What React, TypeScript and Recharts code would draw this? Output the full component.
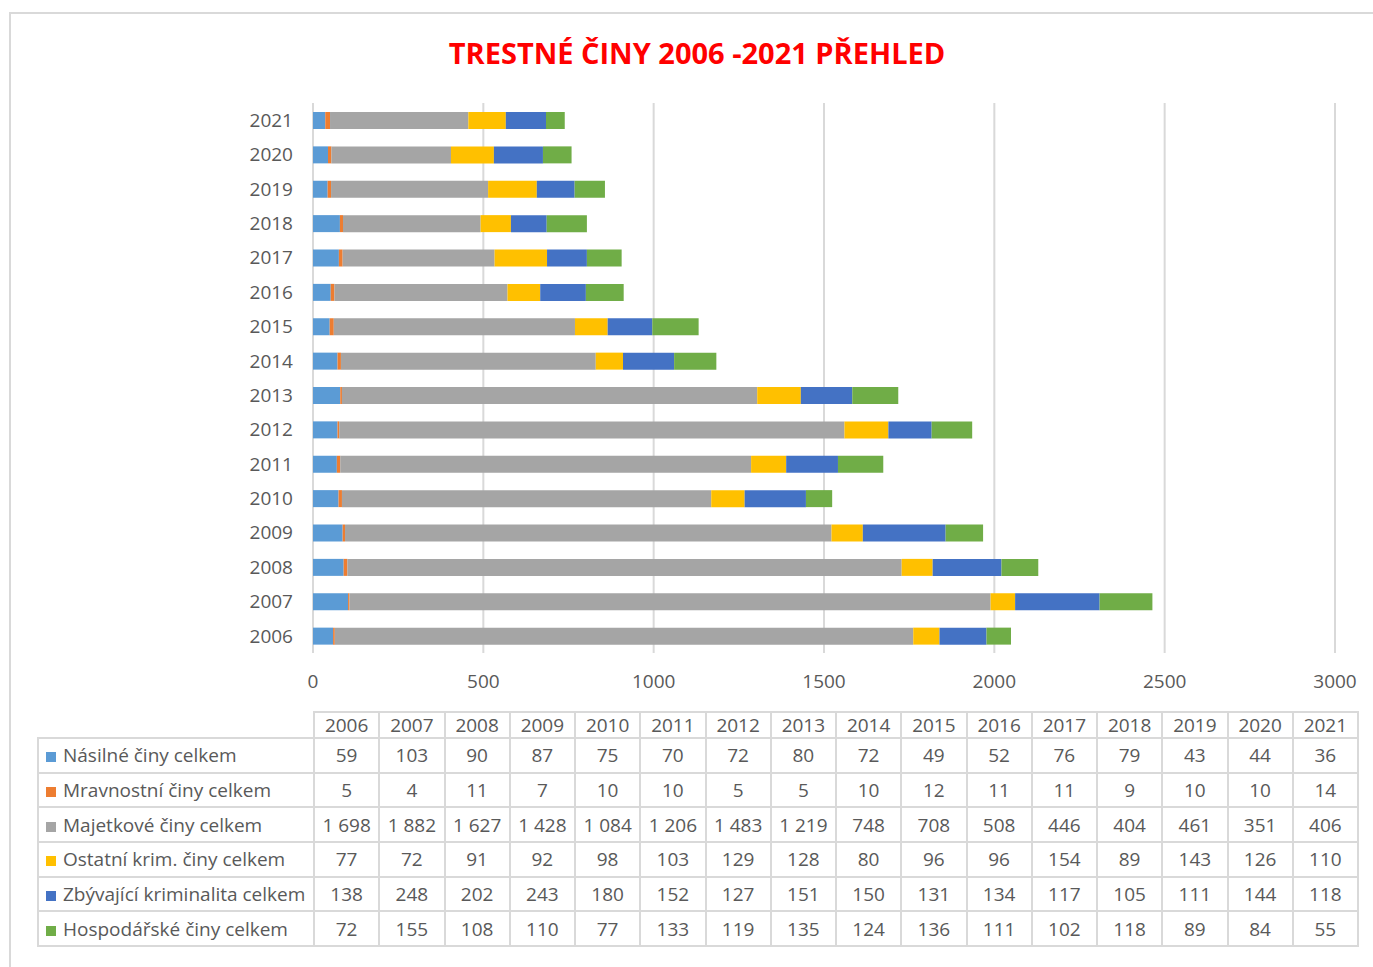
import React from 'react';
import { BarChart, Bar, XAxis, YAxis, CartesianGrid } from 'recharts';

const years = ['2006', '2007', '2008', '2009', '2010', '2011', '2012', '2013', '2014', '2015', '2016', '2017', '2018', '2019', '2020', '2021'];

const nasilne = [59, 103, 90, 87, 75, 70, 72, 80, 72, 49, 52, 76, 79, 43, 44, 36];
const mravnostni = [5, 4, 11, 7, 10, 10, 5, 5, 10, 12, 11, 11, 9, 10, 10, 14];
const majetkove = [1698, 1882, 1627, 1428, 1084, 1206, 1483, 1219, 748, 708, 508, 446, 404, 461, 351, 406];
const ostatni = [77, 72, 91, 92, 98, 103, 129, 128, 80, 96, 96, 154, 89, 143, 126, 110];
const zbyvajici = [138, 248, 202, 243, 180, 152, 127, 151, 150, 131, 134, 117, 105, 111, 144, 118];
const hospodarske = [72, 155, 108, 110, 77, 133, 119, 135, 124, 136, 111, 102, 118, 89, 84, 55];

const xTicks = [0, 500, 1000, 1500, 2000, 2500, 3000];

const series = [
  { key: 'nasilne', name: 'Násilné činy celkem', color: '#5B9BD5', values: nasilne },
  { key: 'mravnostni', name: 'Mravnostní činy celkem', color: '#ED7D31', values: mravnostni },
  { key: 'majetkove', name: 'Majetkové činy celkem', color: '#A5A5A5', values: majetkove },
  { key: 'ostatni', name: 'Ostatní krim. činy celkem', color: '#FFC000', values: ostatni },
  { key: 'zbyvajici', name: 'Zbývající kriminalita celkem', color: '#4472C4', values: zbyvajici },
  { key: 'hospodarske', name: 'Hospodářské činy celkem', color: '#70AD47', values: hospodarske },
];

const data = years.map((year, i) => {
  const row: Record<string, string | number> = { year };
  series.forEach((s) => { row[s.key] = s.values[i]; });
  return row;
});

const FONT = '"Open Sans", "Noto Sans", sans-serif';
const TEXT = '#595959';
const LINE = '#d9d9d9';

// excel style thousands: "1 698"
const fmt = (n: number) =>
  n >= 1000 ? `${Math.floor(n / 1000)} ${String(n % 1000).padStart(3, '0')}` : String(n);

function DataTable() {
  const cell: React.CSSProperties = {
    border: `2px solid ${LINE}`,
    padding: 0,
    textAlign: 'center',
    whiteSpace: 'nowrap',
    lineHeight: '24px',
  };
  return (
    <table
      style={{
        position: 'absolute',
        left: 37,
        top: 711,
        width: 1320,
        borderCollapse: 'collapse',
        tableLayout: 'fixed',
        fontFamily: FONT,
        fontSize: 19,
        color: TEXT,
      }}
    >
      <colgroup>
        <col style={{ width: 276 }} />
        {years.map((y) => <col key={y} style={{ width: 65.25 }} />)}
      </colgroup>
      <tbody>
        <tr style={{ height: 26 }}>
          <td style={{ padding: 0 }} />
          {years.map((y) => <td key={y} style={cell}>{y}</td>)}
        </tr>
        {series.map((s) => (
          <tr key={s.key} style={{ height: 34.7 }}>
            <td style={{ ...cell, textAlign: 'left', paddingLeft: 7 }}>
              <span style={{ display: 'inline-block', width: 10, height: 10, background: s.color, marginRight: 7 }} />
              {s.name}
            </td>
            {s.values.map((v, i) => <td key={i} style={cell}>{fmt(v)}</td>)}
          </tr>
        ))}
      </tbody>
    </table>
  );
}

export default function App() {
  return (
    <div style={{ position: 'absolute', left: 0, top: 0, width: 1373, height: 967, background: '#fff', overflow: 'hidden' }}>
      <div style={{ position: 'absolute', left: 9, top: 12, width: 1400, height: 1000, borderLeft: `2px solid ${LINE}`, borderTop: `2px solid ${LINE}` }} />
      <div
        style={{
          position: 'absolute',
          left: 0,
          width: 1394,
          top: 33,
          textAlign: 'center',
          fontFamily: FONT,
          fontWeight: 700,
          fontSize: 29,
          color: '#FF0000',
        }}
      >
        TRESTNÉ ČINY 2006 -2021 PŘEHLED
      </div>
      <div style={{ position: 'absolute', left: 0, top: 0 }}>
        <BarChart
          width={1373}
          height={710}
          data={data}
          layout="vertical"
          margin={{ top: 103, right: 38, left: 230, bottom: 27 }}
        >
          <CartesianGrid horizontal={false} stroke={LINE} strokeWidth={2} />
          <XAxis
            type="number"
            domain={[0, 3000]}
            ticks={xTicks}
            axisLine={false}
            tickLine={false}
            tickSize={0}
            tickMargin={22}
            height={30}
            tick={{ fill: TEXT, fontSize: 19, fontFamily: FONT }}
          />
          <YAxis
            type="category"
            dataKey="year"
            reversed
            width={83}
            axisLine={false}
            tickLine={false}
            tickSize={0}
            tickMargin={20}
            tick={{ fill: TEXT, fontSize: 19, fontFamily: FONT }}
          />
          {series.map((s) => (
            <Bar key={s.key} dataKey={s.key} name={s.name} stackId="a" fill={s.color} barSize={17} isAnimationActive={false} />
          ))}
        </BarChart>
      </div>
      <DataTable />
    </div>
  );
}
